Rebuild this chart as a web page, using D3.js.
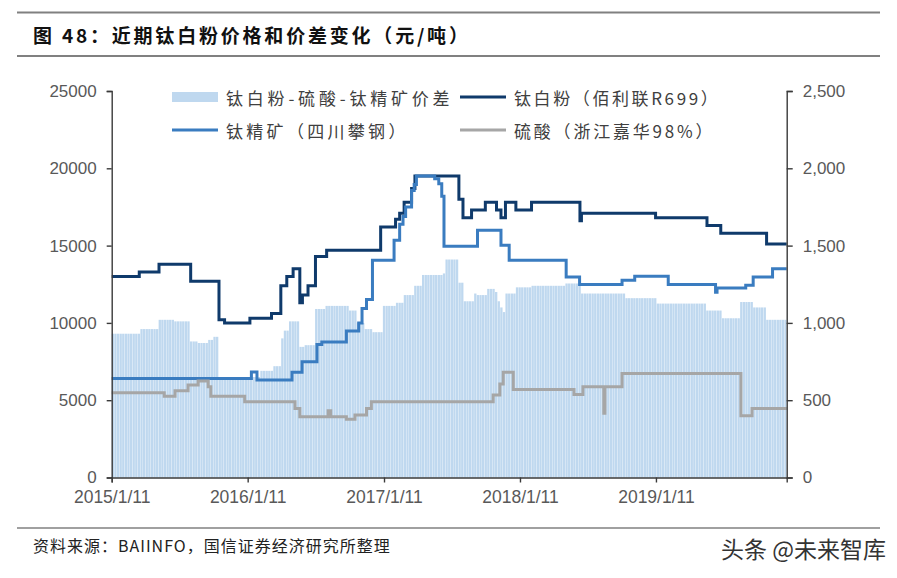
<!DOCTYPE html>
<html><head><meta charset="utf-8">
<script src="https://cdn.jsdelivr.net/npm/d3@7"></script>
<style>body{margin:0;background:#fff;} svg{display:block;}</style>
</head><body>
<svg id="c" width="897" height="578"></svg>
<script>
// ---------- texts ----------
const titleText = "图 48：近期钛白粉价格和价差变化（元/吨）";
const sourceText = "资料来源：BAIINFO，国信证券经济研究所整理";
const watermarkText = "头条 @未来智库";
const seriesNames = ["钛白粉-硫酸-钛精矿价差", "钛白粉（佰利联R699）", "钛精矿（四川攀钢）", "硫酸（浙江嘉华98%）"];
const xTickLabels = ["2015/1/11", "2016/1/11", "2017/1/11", "2018/1/11", "2019/1/11"];
const leftTicks = [0, 5000, 10000, 15000, 20000, 25000];
const rightTicks = [0, 500, 1000, 1500, 2000, 2500];
const firstWeek = "2015-01-11";
const lastDate = "2019-12-28";

// ---------- spread bars (left axis), one value per week from 2015-01-11 ----------
const spreadWeekly = [
 9300,9300,9300,9300,9300,9300,9300,9300,9300,9300,9300,
 9600,9600,9600,9600,9600,9600,9600,
 10200,10200,10200,10200,10200,10200,
 10100,10100,10100,10100,10100,10100,
 8800,8800,8800,
 8700,8700,8700,8700,
 8900,8900,
 9100,9100,
 6500,6500,6500,6500,6500,6500,6500,6500,6500,6500,6500,6500,6500,6500,6500,6500,
 6900,6900,6900,6900,6900,
 7200,7200,7200,
 9000,
 9500,9500,
 10100,10100,10100,10100,
 8450,8450,
 8560,8560,8560,8560,
 10900,10900,10900,10900,
 11100,11100,11100,11100,11100,11100,11100,11100,11100,
 10800,10800,10800,
 10000,10000,10000,
 9600,9600,9600,
 9400,9400,9400,9400,
 11100,11100,11100,11100,11100,
 11300,11300,11300,
 11800,11800,11800,11800,
 12400,12400,12400,
 13100,13100,13100,13100,13100,13100,13100,13100,
 13200,
 14100,14100,14100,14100,14100,
 12600,12600,
 11400,11400,11400,11400,
 11900,
 11800,11800,11800,11800,
 12200,12200,12200,
 12000,
 11400,
 11000,
 10700,
 11900,11900,11900,11900,
 12300,12300,12300,12300,12300,12300,
 12400,12400,12400,12400,12400,12400,12400,12400,12400,12400,12400,12400,12400,
 12550,12550,12550,12550,12550,12550,
 11900,11900,11900,11900,11900,11900,11900,11900,11900,11900,11900,11900,11900,11900,11900,11900,11900,
 11600,11600,11600,11600,11600,11600,11600,11600,11600,11600,11600,11600,
 11250,11250,11250,11250,11250,11250,11250,11250,11250,11250,11250,11250,11250,11250,11250,11250,11250,11250,11250,
 10800,10800,10800,10800,10800,10800,
 10300,10300,10300,10300,10300,10300,10300,
 11350,11350,11350,11350,11350,
 11000,11000,11000,11000,11000,
 10200,10200,10200,10200,10200,10200,10200,10200
];

// ---------- TiO2 price (left axis), change points ----------
const tio2Dates = ["2015-01-11","2015-03-26","2015-05-18","2015-08-11","2015-10-26","2015-11-10","2016-01-17","2016-03-15","2016-04-09","2016-04-25","2016-05-12","2016-05-30","2016-06-06","2016-06-21","2016-07-11","2016-08-10","2017-01-02","2017-02-11","2017-02-22","2017-03-06","2017-03-26","2017-04-04","2017-07-31","2017-08-11","2017-09-03","2017-10-10","2017-11-09","2017-11-21","2017-12-03","2017-12-31","2018-02-11","2018-06-21","2018-06-25","2019-01-10","2019-05-28","2019-07-04","2019-11-04"];
const tio2Values = [13000,13300,13800,12700,10200,10000,10300,10600,12400,13000,13500,11300,11800,12400,14300,14700,16200,16700,17100,17800,18700,19500,18000,16800,17300,17800,17300,16800,17800,17300,17800,16600,17100,16800,16300,15800,15100];

// ---------- ilmenite price (right axis), change points ----------
const ilmDates = ["2015-01-11","2016-01-21","2016-02-05","2016-05-09","2016-06-05","2016-07-15","2016-07-28","2016-10-02","2016-11-04","2016-11-13","2016-11-25","2016-12-11","2017-02-07","2017-02-22","2017-03-03","2017-03-10","2017-03-26","2017-04-02","2017-04-08","2017-05-27","2017-06-07","2017-06-15","2017-06-21","2017-09-19","2017-11-21","2017-12-13","2018-05-15","2018-06-20","2018-10-12","2018-11-15","2019-02-13","2019-06-20","2019-06-24","2019-09-09","2019-09-29","2019-11-20"];
const ilmValues = [641,682,630,680,748,860,877,948,1000,1093,1151,1405,1534,1638,1689,1749,1857,1896,1950,1933,1900,1820,1496,1600,1502,1405,1297,1248,1276,1302,1248,1198,1226,1244,1297,1351];

// ---------- sulfuric acid price (right axis), change points ----------
const acidDates = ["2015-01-11","2015-06-01","2015-06-30","2015-08-04","2015-08-31","2015-09-27","2015-10-04","2016-01-03","2016-05-17","2016-05-30","2016-08-14","2016-08-21","2016-10-02","2016-10-25","2016-11-25","2016-12-08","2017-10-31","2017-11-18","2017-11-27","2017-12-24","2018-06-05","2018-06-29","2018-08-24","2018-08-27","2018-10-12","2019-08-27","2019-09-26"];
const acidValues = [548,526,561,598,625,587,526,490,447,393,431,393,376,404,447,490,533,604,680,570,537,587,415,587,673,399,447];

// ---------- drawing ----------
const svg = d3.select("#c");
const plot = {left: 111.7, right: 786.7, top: 91, bottom: 477.5};
const parse = d3.utcParse("%Y-%m-%d");
const colors = {bar: "#bfd8ef", tio2: "#0f3a6b", ilm: "#3a7cc0", acid: "#a6a6a6", axis: "#3a3a3a", tick: "#595959"};
const latin = "'Liberation Sans', Arial, sans-serif";
const cjk = "'Noto Sans CJK SC', 'Noto Sans', sans-serif";

const x = d3.scaleUtc().domain([parse(firstWeek), parse(lastDate)]).range([plot.left, plot.right]);
const yL = d3.scaleLinear().domain([0, 25000]).range([plot.bottom, plot.top]);
const yR = d3.scaleLinear().domain([0, 2500]).range([plot.bottom, plot.top]);

// title block
svg.append("line").attr("x1", 17).attr("x2", 880).attr("y1", 12.5).attr("y2", 12.5).attr("stroke", "#808080").attr("stroke-width", 2);
svg.append("line").attr("x1", 17).attr("x2", 880).attr("y1", 56).attr("y2", 56).attr("stroke", "#808080").attr("stroke-width", 2);
svg.append("text").attr("x", 33).attr("y", 34).attr("dominant-baseline", "central")
  .attr("font-family", cjk).attr("font-weight", "bold").attr("font-size", 19).attr("letter-spacing", 2.8)
  .attr("fill", "#111").text(titleText);

// bars
const start = parse(firstWeek);
const endD = parse(lastDate);
const bars = spreadWeekly.map((v, i) => {
  const d0 = d3.utcDay.offset(start, 7 * i);
  let d1 = d3.utcDay.offset(start, 7 * (i + 1));
  if (d1 > endD) d1 = endD;
  return {d0, d1, v};
});
svg.append("g").selectAll("rect").data(bars).join("rect")
  .attr("x", d => x(d.d0))
  .attr("width", d => Math.max(0.5, x(d.d1) - x(d.d0) - 0.3))
  .attr("y", d => yL(d.v))
  .attr("height", d => yL(0) - yL(d.v))
  .attr("fill", colors.bar);

// step lines
function stepSeries(dates, values) {
  const pts = dates.map((d, i) => ({d: parse(d), v: values[i]}));
  pts.push({d: endD, v: values[values.length - 1]});
  return pts;
}
function drawLine(pts, yScale, color, w) {
  svg.append("path").datum(pts)
    .attr("d", d3.line().curve(d3.curveStepAfter).x(p => x(p.d)).y(p => yScale(p.v)))
    .attr("fill", "none").attr("stroke", color).attr("stroke-width", w).attr("stroke-linejoin", "miter");
}
drawLine(stepSeries(tio2Dates, tio2Values), yL, colors.tio2, 3);
drawLine(stepSeries(ilmDates, ilmValues), yR, colors.ilm, 3);
drawLine(stepSeries(acidDates, acidValues), yR, colors.acid, 3);

// axes
function styleAxis(g) {
  g.selectAll("path.domain").attr("stroke", colors.axis).attr("stroke-width", 1.4);
  g.selectAll(".tick line").attr("stroke", colors.axis).attr("stroke-width", 1.4);
  g.selectAll(".tick text").attr("fill", colors.tick).attr("font-family", latin).attr("font-size", 17);
}
svg.append("g").attr("transform", `translate(${plot.left},0)`)
  .call(d3.axisLeft(yL).tickValues(leftTicks).tickFormat(d3.format("d")).tickSizeOuter(0).tickSize(5).tickPadding(10))
  .call(styleAxis);
svg.append("g").attr("transform", `translate(${plot.right},0)`)
  .call(d3.axisRight(yR).tickValues(rightTicks).tickFormat(d3.format(",")).tickSizeOuter(0).tickSize(6).tickPadding(10))
  .call(styleAxis);
const xTickDates = xTickLabels.map(s => { const [Y, M, D] = s.split("/").map(Number); return new Date(Date.UTC(Y, M - 1, D)); });
svg.append("g").attr("transform", `translate(0,${plot.bottom})`)
  .call(d3.axisBottom(x).tickValues(xTickDates).tickFormat((d, i) => xTickLabels[i]).tickSizeOuter(0).tickSize(5).tickPadding(8))
  .call(styleAxis);
svg.selectAll("g").filter(function(){ return this.querySelector("path.domain") && this.getAttribute("transform").startsWith("translate(0"); })
  .selectAll(".tick text").attr("font-size", 17.5);

// legend
const legend = svg.append("g").attr("font-family", cjk).attr("font-size", 17).attr("fill", "#404040").attr("letter-spacing", 3);
const legendItems = [
  {name: seriesNames[0], type: "bar", color: colors.bar, x: 172, y: 97, ls: 3.8},
  {name: seriesNames[1], type: "line", color: colors.tio2, x: 460, y: 97, ls: 2.6},
  {name: seriesNames[2], type: "line", color: colors.ilm, x: 172, y: 130, ls: 3.3},
  {name: seriesNames[3], type: "line", color: colors.acid, x: 460, y: 130, ls: 2.8}
];
legendItems.forEach(it => {
  if (it.type === "bar") {
    legend.append("rect").attr("x", it.x).attr("y", it.y - 5).attr("width", 46).attr("height", 10).attr("fill", it.color);
  } else {
    legend.append("line").attr("x1", it.x).attr("x2", it.x + 46).attr("y1", it.y).attr("y2", it.y).attr("stroke", it.color).attr("stroke-width", 3);
  }
  legend.append("text").attr("x", it.x + 54).attr("y", it.y).attr("dominant-baseline", "central").attr("letter-spacing", it.ls).text(it.name);
});

// footer
svg.append("line").attr("x1", 17).attr("x2", 880).attr("y1", 528).attr("y2", 528).attr("stroke", "#808080").attr("stroke-width", 1.5);
svg.append("text").attr("x", 33).attr("y", 545).attr("dominant-baseline", "central")
  .attr("font-family", cjk).attr("font-size", 16).attr("letter-spacing", 1).attr("fill", "#222").text(sourceText);
svg.append("text").attr("x", 886).attr("y", 548).attr("dominant-baseline", "central").attr("text-anchor", "end")
  .attr("font-family", cjk).attr("font-size", 23).attr("fill", "#333").text(watermarkText);
</script>
</body></html>
